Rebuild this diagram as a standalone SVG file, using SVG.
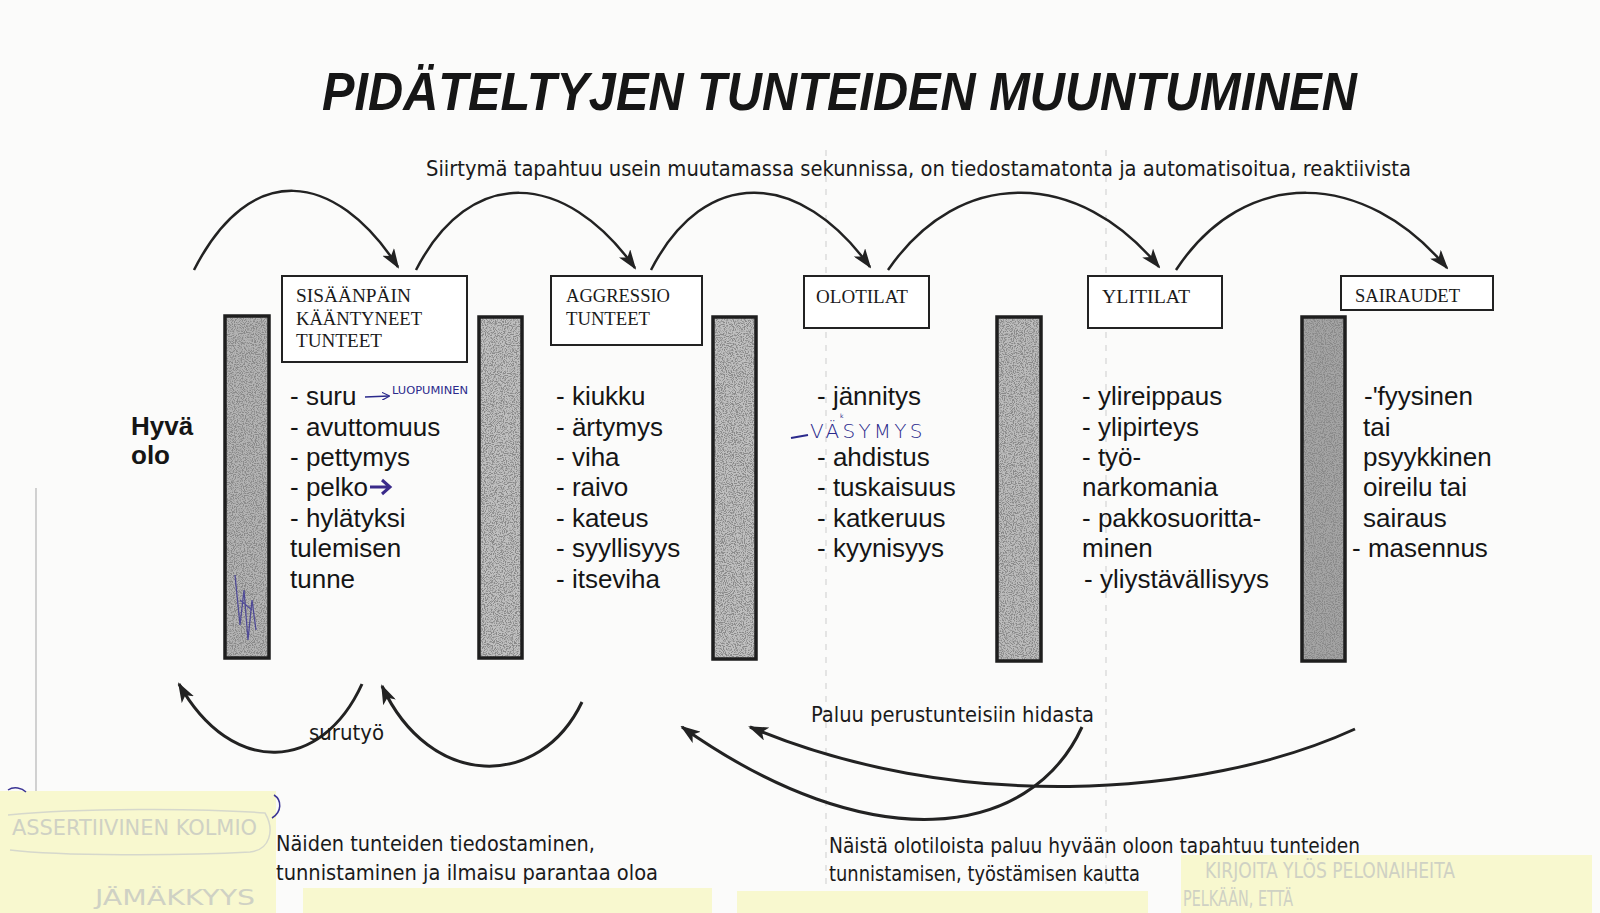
<svg xmlns="http://www.w3.org/2000/svg" width="1600" height="913" viewBox="0 0 1600 913">
<style>
.ttl{font-family:"Liberation Sans",Arial,sans-serif;font-weight:bold;font-style:italic;font-size:54px;fill:#161616}
.sub{font-family:"DejaVu Sans Condensed","DejaVu Sans",sans-serif;font-size:21px;fill:#1a1a1a}
.box{fill:#fff;stroke:#222;stroke-width:2}
.bl{font-family:"Liberation Serif","Times New Roman",serif;font-size:19px;fill:#1a1a1a}
.it{font-family:"Liberation Sans",Arial,sans-serif;font-size:26px;fill:#151515}
.bd{font-family:"Liberation Sans",Arial,sans-serif;font-size:26px;font-weight:bold;fill:#151515}
.bar{stroke:#1e1e1e;stroke-width:3.5;fill:none}
.arc{fill:none;stroke:#222;stroke-width:2.5}
.arcb{fill:none;stroke:#222;stroke-width:3}
.hw{font-family:"DejaVu Sans",sans-serif;fill:#2b2a8c}
.hwf{font-family:"DejaVu Sans",sans-serif;fill:#cfd1c4;font-size:22px}
.sticky{fill:#f8f8cf}
.fold{stroke:#cdcdcd;stroke-width:1;stroke-dasharray:6 7;fill:none}
</style>
<defs>
<marker id="ah" viewBox="0 0 20 14" refX="18" refY="7" markerWidth="20" markerHeight="14" markerUnits="userSpaceOnUse" orient="auto">
<path d="M0,0 L20,7 L0,14 L5,7 z" fill="#222"/>
</marker>
<marker id="ahs" viewBox="0 0 10 10" refX="9" refY="5" markerWidth="8" markerHeight="8" markerUnits="userSpaceOnUse" orient="auto">
<path d="M0,0 L10,5 L0,10" fill="none" stroke="#2b2a8c" stroke-width="1.5"/>
</marker>
<filter id="grain" x="0" y="0" width="100%" height="100%">
<feTurbulence type="fractalNoise" baseFrequency="0.9" numOctaves="2" seed="7" result="n"/>
<feColorMatrix in="n" type="matrix" values="0 0 0 0 0.25  0 0 0 0 0.25  0 0 0 0 0.25  0 0 0 5 -2.2" result="d"/>
<feComposite in="d" in2="SourceGraphic" operator="atop"/>
</filter>
</defs>
<rect x="0" y="0" width="1600" height="913" fill="#fbfbfa"/>
<g id="folds">
<line class="fold" x1="826" y1="150" x2="826" y2="905"/>
<line class="fold" x1="1106" y1="150" x2="1106" y2="905"/>
<line x1="36" y1="488" x2="36" y2="913" stroke="#b5b5b5" stroke-width="1.2"/>
</g>
<g id="title">
<text class="ttl" x="322" y="110" textLength="1035" lengthAdjust="spacingAndGlyphs">PIDÄTELTYJEN TUNTEIDEN MUUNTUMINEN</text>
</g>
<g id="subtitle">
<text class="sub" x="426" y="176" textLength="985" lengthAdjust="spacingAndGlyphs">Siirtymä tapahtuu usein muutamassa sekunnissa, on tiedostamatonta ja automatisoitua, reaktiivista</text>
</g>
<g id="bars">
<rect x="225" y="316" width="44" height="342" fill="#b4b4b4" filter="url(#grain)"/>
<rect class="bar" x="225" y="316" width="44" height="342"/>
<rect x="479" y="317" width="43" height="341" fill="#c0c0c0" filter="url(#grain)"/>
<rect class="bar" x="479" y="317" width="43" height="341"/>
<rect x="713" y="317" width="43" height="342" fill="#c0c0c0" filter="url(#grain)"/>
<rect class="bar" x="713" y="317" width="43" height="342"/>
<rect x="997" y="317" width="44" height="344" fill="#bcbcbc" filter="url(#grain)"/>
<rect class="bar" x="997" y="317" width="44" height="344"/>
<rect x="1302" y="317" width="43" height="344" fill="#a4a4a4" filter="url(#grain)"/>
<rect class="bar" x="1302" y="317" width="43" height="344"/>
</g>
<g id="node-hyva-olo">
<text class="bd" x="131" y="435">Hyvä</text>
<text class="bd" x="131" y="464">olo</text>
</g>
<g id="node-sisaanpain">
<rect class="box" x="282" y="276" width="185" height="86"/>
<text class="bl" x="296" y="302" textLength="115" lengthAdjust="spacingAndGlyphs">SISÄÄNPÄIN</text>
<text class="bl" x="296" y="325" textLength="126" lengthAdjust="spacingAndGlyphs">KÄÄNTYNEET</text>
<text class="bl" x="296" y="347" textLength="86" lengthAdjust="spacingAndGlyphs">TUNTEET</text>
<text class="it" x="290" y="405">- suru</text>
<text class="it" x="290" y="436">- avuttomuus</text>
<text class="it" x="290" y="466">- pettymys</text>
<text class="it" x="290" y="496">- pelko</text>
<text class="it" x="290" y="527">- hylätyksi</text>
<text class="it" x="290" y="557">tulemisen</text>
<text class="it" x="290" y="588">tunne</text>
</g>
<g id="node-aggressio">
<rect class="box" x="551" y="276" width="151" height="69"/>
<text class="bl" x="566" y="302" textLength="104" lengthAdjust="spacingAndGlyphs">AGGRESSIO</text>
<text class="bl" x="566" y="325" textLength="84" lengthAdjust="spacingAndGlyphs">TUNTEET</text>
<text class="it" x="556" y="405">- kiukku</text>
<text class="it" x="556" y="436">- ärtymys</text>
<text class="it" x="556" y="466">- viha</text>
<text class="it" x="556" y="496">- raivo</text>
<text class="it" x="556" y="527">- kateus</text>
<text class="it" x="556" y="557">- syyllisyys</text>
<text class="it" x="556" y="588">- itseviha</text>
</g>
<g id="node-olotilat">
<rect class="box" x="804" y="276" width="125" height="52"/>
<text class="bl" x="816" y="303" textLength="92" lengthAdjust="spacingAndGlyphs">OLOTILAT</text>
<text class="it" x="817" y="405">- jännitys</text>
<text class="it" x="817" y="466">- ahdistus</text>
<text class="it" x="817" y="496">- tuskaisuus</text>
<text class="it" x="817" y="527">- katkeruus</text>
<text class="it" x="817" y="557">- kyynisyys</text>
</g>
<g id="node-ylitilat">
<rect class="box" x="1088" y="276" width="134" height="52"/>
<text class="bl" x="1102" y="303" textLength="88" lengthAdjust="spacingAndGlyphs">YLITILAT</text>
<text class="it" x="1082" y="405">- ylireippaus</text>
<text class="it" x="1082" y="436">- ylipirteys</text>
<text class="it" x="1082" y="466">- työ-</text>
<text class="it" x="1082" y="496">narkomania</text>
<text class="it" x="1082" y="527">- pakkosuoritta-</text>
<text class="it" x="1082" y="557">minen</text>
<text class="it" x="1084" y="588">- yliystävällisyys</text>
</g>
<g id="node-sairaudet">
<rect class="box" x="1341" y="276" width="152" height="34"/>
<text class="bl" x="1355" y="302" textLength="105" lengthAdjust="spacingAndGlyphs">SAIRAUDET</text>
<text class="it" x="1364" y="405">-'fyysinen</text>
<text class="it" x="1363" y="436">tai</text>
<text class="it" x="1363" y="466">psyykkinen</text>
<text class="it" x="1363" y="496">oireilu tai</text>
<text class="it" x="1363" y="527">sairaus</text>
<text class="it" x="1352" y="557">- masennus</text>
</g>
<g id="connectors">
<path class="arc" d="M194,270 C250,160 335,170 398,267" marker-end="url(#ah)"/>
<path class="arc" d="M416,270 C470,165 565,170 635,268" marker-end="url(#ah)"/>
<path class="arc" d="M651,270 C705,165 800,170 870,267" marker-end="url(#ah)"/>
<path class="arc" d="M888,270 C960,165 1080,170 1159,267" marker-end="url(#ah)"/>
<path class="arc" d="M1176,270 C1245,165 1365,170 1447,268" marker-end="url(#ah)"/>
<path class="arcb" d="M362,684 C322,772 232,778 179,684" marker-end="url(#ah)"/>
<path class="arcb" d="M582,702 C540,790 430,790 382,686" marker-end="url(#ah)"/>
<path class="arcb" d="M1082,727 C1030,840 870,860 682,727" marker-end="url(#ah)"/>
<path class="arcb" d="M1355,729 C1200,800 950,812 750,727" marker-end="url(#ah)"/>
</g>
<g id="labels">
<text class="sub" x="309" y="740" textLength="75" lengthAdjust="spacingAndGlyphs">surutyö</text>
<text class="sub" x="811" y="722" textLength="283" lengthAdjust="spacingAndGlyphs">Paluu perustunteisiin hidasta</text>
<text class="sub" x="276" y="851" textLength="319" lengthAdjust="spacingAndGlyphs">Näiden tunteiden tiedostaminen,</text>
<text class="sub" x="276" y="880" textLength="382" lengthAdjust="spacingAndGlyphs">tunnistaminen ja ilmaisu parantaa oloa</text>
<text class="sub" x="829" y="853" textLength="531" lengthAdjust="spacingAndGlyphs">Näistä olotiloista paluu hyvään oloon tapahtuu tunteiden</text>
<text class="sub" x="829" y="881" textLength="311" lengthAdjust="spacingAndGlyphs">tunnistamisen, työstämisen kautta</text>
</g>
<g id="handwriting">
<path d="M365,397 L389,396" stroke="#2b2a8c" stroke-width="1.6" fill="none" marker-end="url(#ahs)"/>
<text class="hw" x="392" y="394" font-size="11" textLength="76" lengthAdjust="spacingAndGlyphs">LUOPUMINEN</text>
<path d="M370,487 L389,487 M382,480 L390,487 L382,494" stroke="#3a2a8a" stroke-width="3" fill="none"/>
<path d="M791,438 L808,435" stroke="#2b2a8c" stroke-width="2.2"/>
<text class="hw" x="810" y="437.5" font-size="20" letter-spacing="3.2" font-weight="300">VÄSYMYS</text>
<text class="hw" x="840" y="417.5" font-size="6">k</text>
<path d="M235,575 L240,625 L244,590 L248,640 L252,600 L256,630 M240,600 L252,610" stroke="#3b3494" stroke-width="1.3" fill="none" opacity="0.8"/>
</g>
<g id="sticky-notes">
<rect class="sticky" x="0" y="791" width="276" height="122"/>
<rect class="sticky" x="303" y="888" width="409" height="25"/>
<rect class="sticky" x="737" y="891" width="411" height="22"/>
<rect class="sticky" x="1181" y="855" width="411" height="58"/>
<text class="hwf" x="12" y="835" textLength="245" lengthAdjust="spacingAndGlyphs">ASSERTIIVINEN KOLMIO</text>
<path d="M8,815 C80,808 200,808 265,813 C275,830 270,850 250,852 C180,856 60,856 10,850" fill="none" stroke="#d6d8cc" stroke-width="1.5"/>
<text class="hwf" x="95" y="905" font-size="26" textLength="160" lengthAdjust="spacingAndGlyphs">JÄMÄKKYYS</text>
<text class="hwf" x="1205" y="878" font-size="20" textLength="250" lengthAdjust="spacingAndGlyphs">KIRJOITA YLÖS PELONAIHEITA</text>
<text class="hwf" x="1183" y="906" font-size="20" textLength="110" lengthAdjust="spacingAndGlyphs">PELKÄÄN, ETTÄ</text>
<path d="M274,795 C282,800 282,812 272,818" fill="none" stroke="#3b3494" stroke-width="1.5"/>
<path d="M8,790 C14,786 22,788 26,792" fill="none" stroke="#3b3494" stroke-width="1.5"/>
</g>
</svg>
